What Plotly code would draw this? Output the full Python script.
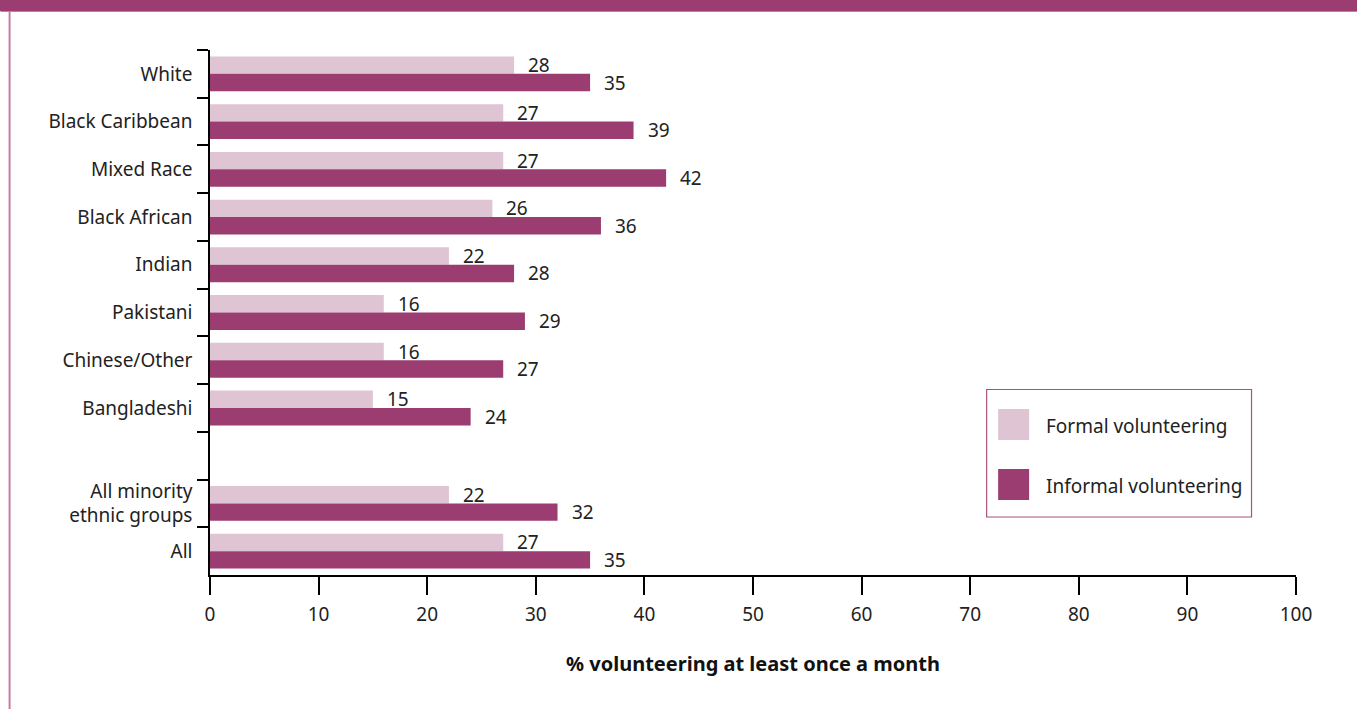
import plotly.graph_objects as go

# Groups, top to bottom; the empty string leaves a spacer row
groups = ["White", "Black Caribbean", "Mixed Race", "Black African", "Indian",
          "Pakistani", "Chinese/Other", "Bangladeshi", "",
          "All minority<br>ethnic groups", "All"]
formal = [28, 27, 27, 26, 22, 16, 16, 15, None, 22, 27]
informal = [35, 39, 42, 36, 28, 29, 27, 24, None, 32, 35]
series_names = ["Formal volunteering", "Informal volunteering"]
x_ticks = [0, 10, 20, 30, 40, 50, 60, 70, 80, 90, 100]
x_title = "% volunteering at least once a month"

PLUM = "#9b3d70"
PINK = "#dfc4d3"
BORDER = "#c47ca6"
TEXT = "#222222"
FONT = "Noto Sans"
FS = 19

W, H = 1357, 709
L, R, T, B = 209.5, 1296, 50, 575  # plot area in pixels


def px(x):
    return (x - L) / (R - L)


def py(y):
    return (B - y) / (B - T)


pos = list(range(len(groups)))
label_pos = [p for p, g in zip(pos, groups) if g]
label_txt = [g for g in groups if g]

fig = go.Figure()
for name, vals, col in [(series_names[0], formal, PINK), (series_names[1], informal, PLUM)]:
    fig.add_trace(go.Bar(
        y=pos, x=vals, orientation="h", name=name,
        marker=dict(color=col, line=dict(width=0)),
        showlegend=False, hoverinfo="skip",
    ))

# value labels beside each bar end
for p, f, i in zip(pos, formal, informal):
    if f is not None:
        fig.add_annotation(x=f, y=p, xref="x", yref="y", text=str(f), showarrow=False,
                           xanchor="left", yanchor="middle", xshift=12, yshift=8.7,
                           font=dict(family=FONT, size=FS, color=TEXT))
    if i is not None:
        fig.add_annotation(x=i, y=p, xref="x", yref="y", text=str(i), showarrow=False,
                           xanchor="left", yanchor="middle", xshift=12, yshift=-8.7,
                           font=dict(family=FONT, size=FS, color=TEXT))

shapes = []
# header band and frame
shapes.append(dict(type="rect", xref="paper", yref="paper",
                   x0=px(-5), x1=px(W + 5), y0=py(0) + 0.01, y1=py(11),
                   fillcolor=PLUM, line=dict(width=0), layer="above"))
shapes.append(dict(type="line", xref="paper", yref="paper",
                   x0=px(0), x1=px(W), y0=py(11.5), y1=py(11.5),
                   line=dict(color=BORDER, width=1.2)))
shapes.append(dict(type="line", xref="paper", yref="paper",
                   x0=px(9), x1=px(9), y0=py(11), y1=py(H + 2),
                   line=dict(color=BORDER, width=2)))
# legend box
shapes.append(dict(type="rect", xref="paper", yref="paper",
                   x0=px(986.5), x1=px(1251.5), y0=py(517), y1=py(389.5),
                   fillcolor="white", line=dict(color="#a8527f", width=1.2)))
legend_rows = [(409, 440, PINK), (469, 500, PLUM)]
for (y0, y1, col), name in zip(legend_rows, series_names):
    shapes.append(dict(type="rect", xref="paper", yref="paper",
                       x0=px(998), x1=px(1029), y0=py(y1), y1=py(y0),
                       fillcolor=col, line=dict(width=0)))
    fig.add_annotation(x=px(1044), y=py((y0 + y1) / 2 + 1.5), xref="paper", yref="paper",
                       text=name, showarrow=False, xanchor="left", yanchor="middle",
                       font=dict(family=FONT, size=FS, color=TEXT))

fig.update_layout(
    width=W, height=H,
    margin=dict(l=L, r=W - R, t=T, b=H - B, pad=0),
    paper_bgcolor="white", plot_bgcolor="white",
    barmode="group", bargap=0.27, bargroupgap=0,
    font=dict(family=FONT, size=FS, color=TEXT),
    shapes=shapes,
    xaxis=dict(
        range=[0, 100], tickvals=x_ticks, ticktext=[str(v) for v in x_ticks],
        showgrid=False, zeroline=False, showline=True, linecolor="black", linewidth=1.5,
        ticks="outside", ticklen=18, tickwidth=1.5, tickcolor="black",
        ticklabelstandoff=3,
        tickfont=dict(family=FONT, size=FS, color=TEXT),
        title=dict(text="<b>" + x_title + "</b>", standoff=31,
                   font=dict(family=FONT, size=20, color="#111111")),
        fixedrange=True,
    ),
    yaxis=dict(
        range=[len(groups) - 0.5, -0.5], tickmode="array",
        tickvals=label_pos, ticktext=label_txt,
        showgrid=False, zeroline=False, showline=True, linecolor="black", linewidth=1.5,
        ticks="outside", ticklen=12, tickcolor="rgba(0,0,0,0)",
        tickfont=dict(family=FONT, size=FS, color=TEXT),
        minor=dict(tickmode="array", tickvals=[p - 0.5 for p in pos],
                   ticks="outside", ticklen=11, tickwidth=1.5, tickcolor="black",
                   showgrid=False),
        fixedrange=True,
    ),
)

fig.write_html("out.html", config={"displayModeBar": False})
